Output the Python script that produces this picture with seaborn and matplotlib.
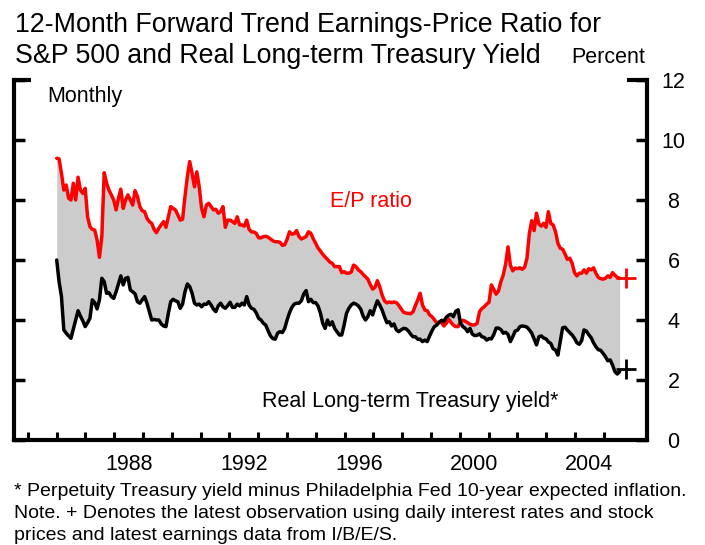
import numpy as np
import pandas as pd
import seaborn as sns
import matplotlib.pyplot as plt

# Monthly readings, Jan 1986 through mid-2005 (percent)
ep_ratio = [
    9.39, 9.37, 8.89, 8.33, 8.50, 8.06, 8.00, 8.56, 8.00, 8.76, 8.33, 8.22, 8.39, 7.44, 7.11, 7.02,
    7.00, 6.67, 6.09, 6.78, 8.91, 8.56, 8.33, 8.17, 8.00, 7.67, 8.06, 8.36, 7.72, 8.00, 8.17, 8.00,
    7.83, 8.31, 8.11, 7.78, 7.64, 7.61, 7.39, 7.28, 7.22, 7.02, 6.91, 7.06, 7.17, 7.28, 7.09, 7.44,
    7.78, 7.72, 7.67, 7.50, 7.33, 7.36, 8.11, 8.78, 9.28, 8.89, 8.44, 8.94, 8.44, 7.72, 7.44, 7.83,
    7.89, 7.78, 7.67, 7.69, 7.56, 7.61, 7.78, 7.09, 7.33, 7.33, 7.28, 7.22, 7.44, 7.17, 7.17, 7.13,
    7.33, 7.02, 6.94,
    6.93, 6.89, 6.74, 6.74, 6.78, 6.79, 6.76, 6.70, 6.64, 6.61, 6.61, 6.59, 6.49, 6.51, 6.69, 6.94,
    6.86, 6.88, 6.98, 6.78, 6.70, 6.74, 6.78, 6.94, 6.89, 6.71, 6.56, 6.40, 6.30, 6.19, 6.10, 6.02,
    5.93, 5.89, 5.78, 5.78, 5.78, 5.58, 5.61, 5.56, 5.56, 5.60, 5.83, 5.78, 5.67, 5.61, 5.52, 5.44,
    5.36, 5.18, 5.03, 5.09, 5.31, 5.11, 4.83, 4.64, 4.57, 4.60, 4.58, 4.60, 4.58, 4.49, 4.37, 4.26,
    4.23, 4.22, 4.21, 4.27, 4.48, 4.67, 4.89, 4.50, 4.33, 4.31, 4.17, 4.11, 4.01, 3.90,
    3.93, 3.92, 3.80, 3.89, 4.03, 3.92, 3.83, 3.78, 3.78, 3.94, 3.99, 3.96, 3.91, 3.86, 3.83, 3.84,
    3.89, 4.28, 4.38, 4.44, 4.53, 4.59, 5.17, 5.02, 4.86, 4.97, 5.28, 5.50, 5.87, 6.44, 5.83, 5.64,
    5.73, 5.71, 5.74, 5.69, 5.76, 6.06, 6.89, 7.31, 6.98, 7.56, 7.20, 7.13, 7.22, 7.09, 7.61, 7.22,
    7.17, 6.94, 6.56, 6.39, 6.36, 6.20, 6.02, 6.06, 5.89, 5.58, 5.47, 5.56, 5.56, 5.67, 5.56, 5.71,
    5.67, 5.74, 5.56, 5.42, 5.38, 5.36, 5.39, 5.47, 5.42, 5.58, 5.49, 5.42, 5.39,
]

real_yield = [
    6.00, 5.28, 4.78, 3.67, 3.56, 3.47, 3.39, 3.69, 4.00, 4.31, 4.13, 3.97, 3.78, 3.91, 4.06, 4.67,
    4.58, 4.37, 4.67, 5.39, 5.28, 4.89, 4.91, 4.78, 4.72, 4.94, 5.20, 5.47, 5.17, 5.39, 5.42, 5.00,
    4.94, 4.87, 4.61, 4.56, 4.67, 4.78, 4.56, 4.28, 4.00, 4.02, 4.00, 4.00, 3.87, 3.80, 3.78, 4.22,
    4.61, 4.69, 4.64, 4.61, 4.39, 4.53, 4.94, 5.20, 5.11, 4.89, 4.56, 4.50, 4.53, 4.44, 4.53, 4.52,
    4.61, 4.50, 4.36, 4.28, 4.47, 4.56, 4.44, 4.39, 4.48, 4.59, 4.42, 4.42, 4.53, 4.47, 4.56, 4.50,
    4.78, 4.50, 4.39,
    4.36, 4.24, 4.06, 4.00, 3.89, 3.83, 3.64, 3.47, 3.38, 3.36, 3.56, 3.61, 3.58, 3.72, 4.00, 4.24,
    4.42, 4.53, 4.56, 4.56, 4.64, 4.87, 4.98, 4.61, 4.69, 4.58, 4.58, 4.47, 4.24, 3.89, 3.72, 4.00,
    3.83, 3.94, 3.72, 3.61, 3.50, 3.50, 3.83, 4.22, 4.39, 4.50, 4.56, 4.53, 4.47, 4.36, 4.13, 4.00,
    4.11, 4.31, 4.17, 4.42, 4.64, 4.50, 4.33, 4.11, 3.91, 3.94, 3.80, 3.87, 3.67, 3.61, 3.67, 3.72,
    3.71, 3.64, 3.53, 3.44, 3.44, 3.36, 3.36, 3.28, 3.33, 3.28, 3.47, 3.64, 3.78, 3.83,
    3.92, 3.99, 3.96, 4.09, 4.16, 4.19, 4.11, 4.29, 4.34, 3.89, 3.78, 3.72, 3.61, 3.72, 3.53, 3.48,
    3.49, 3.54, 3.44, 3.42, 3.33, 3.38, 3.37, 3.51, 3.73, 3.73, 3.68, 3.56, 3.59, 3.52, 3.28, 3.44,
    3.63, 3.66, 3.78, 3.80, 3.79, 3.76, 3.67, 3.56, 3.36, 3.17, 3.44, 3.47, 3.40, 3.37, 3.27, 3.22,
    3.04, 3.00, 2.83, 3.28, 3.74, 3.76, 3.66, 3.58, 3.50, 3.39, 3.24, 3.19, 3.31, 3.67, 3.63, 3.51,
    3.41, 3.24, 3.11, 3.01, 2.99, 2.89, 2.78, 2.64, 2.67, 2.50, 2.28, 2.20, 2.28,
]

start_year = 1986.0
end_year = 2005.55

# latest observation (daily data)
latest_year = 2005.78
latest_ep = 5.39
latest_yield = 2.36

year_labels = ['1988', '1992', '1996', '2000', '2004']
y_ticks = [0, 2, 4, 6, 8, 10, 12]

years = np.linspace(start_year, end_year, len(ep_ratio))
df = pd.DataFrame({'year': years, 'ep': ep_ratio, 'real': real_yield})

sns.set_style('white')
plt.rcParams['font.family'] = ['Liberation Sans', 'DejaVu Sans']
plt.rcParams['text.color'] = 'black'
plt.rcParams['xtick.color'] = 'black'
plt.rcParams['ytick.color'] = 'black'

W, H = 705, 545
fig = plt.figure(figsize=(W / 100, H / 100), dpi=100)
ax = fig.add_axes([13.5 / W, 105 / H, (647 - 13.5) / W, 360 / H])

ax.fill_between(df['year'], df['ep'], df['real'], color='#cccccc', lw=0, zorder=1)
sns.lineplot(data=df, x='year', y='ep', color='#ff0000', lw=2.5, ax=ax, zorder=3)
sns.lineplot(data=df, x='year', y='real', color='black', lw=2.5, ax=ax, zorder=3)
ax.plot(latest_year, latest_ep, marker='+', color='#ff0000', ms=14, mew=2, zorder=4)
ax.plot(latest_year, latest_yield, marker='+', color='black', ms=14, mew=2, zorder=4)

ax.set_xlim(1984.5, 2006.5)
ax.set_ylim(0, 12)
ax.set_xlabel('')
ax.set_ylabel('')

# year labels centred in each year, ticks at year boundaries
ax.set_xticks([int(y) + 0.5 for y in year_labels])
ax.set_xticklabels(year_labels, fontsize=15.5)
ax.set_xticks(np.arange(1985, 2006), minor=True)
ax.tick_params(axis='x', which='major', bottom=True, length=0, pad=10)
ax.tick_params(axis='x', which='minor', bottom=True, direction='in', length=6, width=2.2,
               color='black')

ax.set_yticks(y_ticks)
ax.set_yticklabels([str(v) for v in y_ticks], fontsize=15.5)
ax.tick_params(axis='y', which='major', direction='in', left=True, right=True,
               labelleft=False, labelright=True, length=8, width=2.5, color='black', pad=19)
for lab in ax.get_yticklabels():
    lab.set_horizontalalignment('center')

for side in ['left', 'right', 'bottom']:
    ax.spines[side].set_linewidth(3)
    ax.spines[side].set_color('black')
ax.spines['top'].set_visible(False)

# corner stubs at the top of the frame
ax.plot([0, 0.028], [1, 1], color='black', lw=3, transform=ax.transAxes, clip_on=False,
        solid_capstyle='butt')
ax.plot([0.969, 1.0], [1, 1], color='black', lw=3, transform=ax.transAxes, clip_on=False,
        solid_capstyle='butt')

def px(x, y):
    return x / W, 1 - y / H

fig.text(*px(15, 32), '12-Month Forward Trend Earnings-Price Ratio for', fontsize=19.3, va='baseline')
fig.text(*px(15, 63), 'S&P 500 and Real Long-term Treasury Yield', fontsize=19.3, va='baseline')
fig.text(*px(645, 63), 'Percent', fontsize=15.5, ha='right', va='baseline')
fig.text(*px(47, 102), 'Monthly', fontsize=15.5, va='baseline')
fig.text(*px(330, 207), 'E/P ratio', fontsize=15.5, color='#ff0000', va='baseline')
fig.text(*px(262, 407), 'Real Long-term Treasury yield*', fontsize=15.5, va='baseline')

notes = [
    '* Perpetuity Treasury yield minus Philadelphia Fed 10-year expected inflation.',
    'Note. + Denotes the latest observation using daily interest rates and stock',
    'prices and latest earnings data from I/B/E/S.',
]
for i, line in enumerate(notes):
    fig.text(*px(14, 496 + 22 * i), line, fontsize=14.0, va='baseline')

fig.savefig('out.png', dpi=100)
